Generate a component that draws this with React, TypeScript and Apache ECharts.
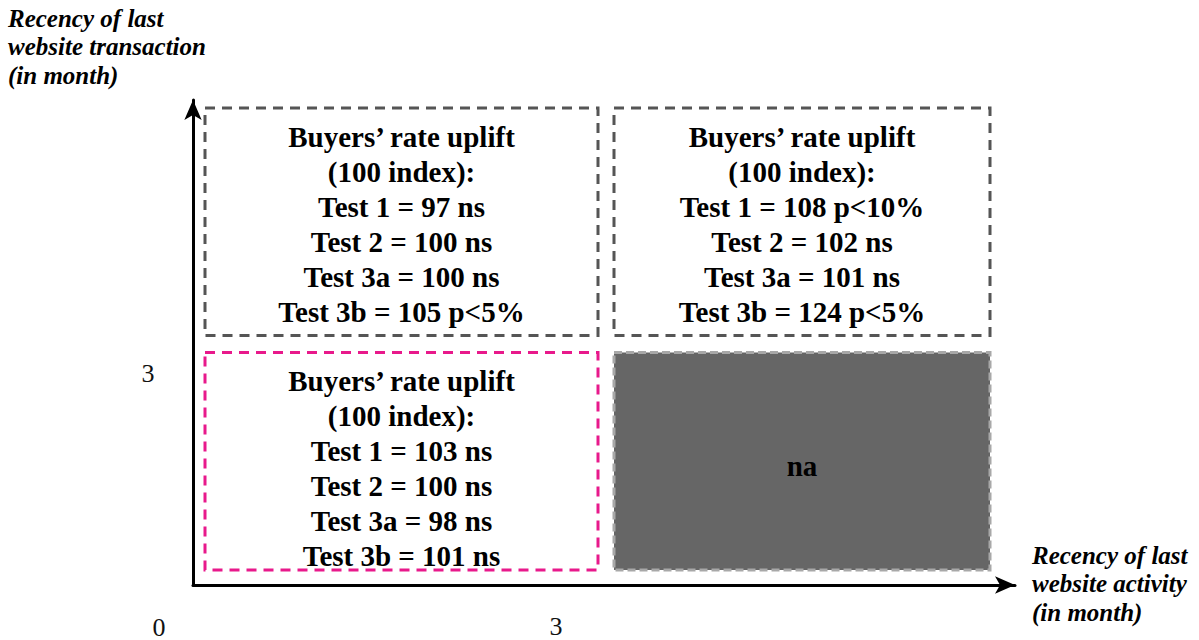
import React, { useEffect, useRef } from "react";
import * as echarts from "echarts";

// ---- Data ----
const xTickLabels = ["0", "3"];
const yTickLabels = ["3"];
const xAxisTitle = ["Recency of last", "website activity", "(in month)"];
const yAxisTitle = ["Recency of last", "website transaction", "(in month)"];
const headerLines = ["Buyers\u2019 rate uplift", "(100 index):"];
const testNames = ["Test 1", "Test 2", "Test 3a", "Test 3b"];

// quadrant extents in axis units (months)
const quadrantNames = ["topLeft", "topRight", "bottomLeft", "bottomRight"];
const quadrantX = [[0, 3], [3, 6], [0, 3], [3, 6]];
const quadrantY = [[3, 6], [3, 6], [0, 3], [0, 3]];

const topLeftValues = [97, 100, 100, 105];
const topLeftSig = ["ns", "ns", "ns", "p<5%"];
const topRightValues = [108, 102, 101, 124];
const topRightSig = ["p<10%", "ns", "ns", "p<5%"];
const bottomLeftValues = [103, 100, 98, 101];
const bottomLeftSig = ["ns", "ns", "ns", "ns"];
const bottomRightText = "na";

function buildLines(values: number[], sig: string[]): string {
  return headerLines
    .concat(testNames.map((t, i) => `${t} = ${values[i]} ${sig[i]}`))
    .join("\n");
}

const quadrantTexts = [
  buildLines(topLeftValues, topLeftSig),
  buildLines(topRightValues, topRightSig),
  buildLines(bottomLeftValues, bottomLeftSig),
  bottomRightText,
];

// ---- Styles ----
const insets: Record<string, [number, number, number, number]> = {
  // left, right, top, bottom (px)
  topLeft: [12, 6, 8, 7],
  topRight: [10, 25, 8, 7],
  bottomLeft: [12, 6, 10, 15],
  bottomRight: [10, 25, 10, 15],
};
const textShift: Record<string, number> = {
  topLeft: 3,
  topRight: 3,
  bottomLeft: 7,
  bottomRight: 5,
};
const boxStyles: Record<string, any> = {
  topLeft: { fill: "rgba(0,0,0,0)", stroke: "#555555", lineDash: [10, 7] },
  topRight: { fill: "rgba(0,0,0,0)", stroke: "#555555", lineDash: [10, 7] },
  bottomLeft: { fill: "rgba(0,0,0,0)", stroke: "#e8198b", lineDash: [10, 7] },
  bottomRight: { fill: "#666666", stroke: "#a8a8a8", lineDash: [8, 4] },
};

const serif = '"Liberation Serif", "Times New Roman", serif';

export default function App() {
  const ref = useRef<HTMLDivElement>(null);
  useEffect(() => {
    if (!ref.current) return;
    const chart = echarts.init(ref.current, undefined, { renderer: "svg" });
    const data = quadrantNames.map((name, i) => ({
      name,
      value: [quadrantX[i][0], quadrantX[i][1], quadrantY[i][0], quadrantY[i][1]],
    }));
    const axisCommon = {
      type: "value",
      min: 0,
      max: 6,
      axisLine: {
        show: true,
        onZero: false,
        lineStyle: { color: "#000", width: 3 },
        symbol: ["none", "arrow"],
        symbolSize: [13, 20],
      },
      axisTick: { show: false },
      axisLabel: { show: false },
      splitLine: { show: false },
    };
    chart.setOption({
      animation: false,
      backgroundColor: "#ffffff",
      grid: { left: 193, right: 184, top: 100, bottom: 55 },
      xAxis: axisCommon,
      yAxis: axisCommon,
      series: [
        {
          type: "custom",
          data,
          renderItem: (params: any, api: any) => {
            const i = params.dataIndex;
            const name = quadrantNames[i];
            const p0 = api.coord([api.value(0), api.value(3)]);
            const p1 = api.coord([api.value(1), api.value(2)]);
            const ins = insets[name];
            const x = p0[0] + ins[0];
            const y = p0[1] + ins[2];
            const w = p1[0] - ins[1] - x;
            const h = p1[1] - ins[3] - y;
            const st = boxStyles[name];
            return {
              type: "group",
              children: [
                {
                  type: "rect",
                  shape: { x, y, width: w, height: h },
                  style: {
                    fill: st.fill,
                    stroke: st.stroke,
                    lineWidth: 3,
                    lineDash: st.lineDash,
                  },
                },
                {
                  type: "text",
                  x: x + w / 2,
                  y: y + h / 2 + textShift[name],
                  style: {
                    text: quadrantTexts[i],
                    fill: "#000",
                    font: `bold 29px ${serif}`,
                    lineHeight: 35,
                    align: "center",
                    verticalAlign: "middle",
                  },
                },
              ],
            };
          },
        },
      ],
      graphic: [
        {
          type: "text",
          left: 8,
          top: 4,
          style: {
            text: yAxisTitle.join("\n"),
            fill: "#000",
            font: `italic bold 25px ${serif}`,
            lineHeight: 28.5,
          },
        },
        {
          type: "text",
          left: 1032,
          top: 541,
          style: {
            text: xAxisTitle.join("\n"),
            fill: "#000",
            font: `italic bold 25px ${serif}`,
            lineHeight: 28.5,
          },
        },
        {
          type: "text",
          x: 159,
          y: 627,
          style: {
            text: xTickLabels[0],
            fill: "#111",
            font: `26px ${serif}`,
            align: "center",
            verticalAlign: "middle",
          },
        },
        {
          type: "text",
          x: 556,
          y: 626,
          style: {
            text: xTickLabels[1],
            fill: "#111",
            font: `26px ${serif}`,
            align: "center",
            verticalAlign: "middle",
          },
        },
        {
          type: "text",
          x: 148,
          y: 373,
          style: {
            text: yTickLabels[0],
            fill: "#111",
            font: `26px ${serif}`,
            align: "center",
            verticalAlign: "middle",
          },
        },
      ],
    });
    return () => chart.dispose();
  }, []);
  return (
    <div
      ref={ref}
      style={{ position: "fixed", left: 0, top: 0, width: 1199, height: 640 }}
    />
  );
}
